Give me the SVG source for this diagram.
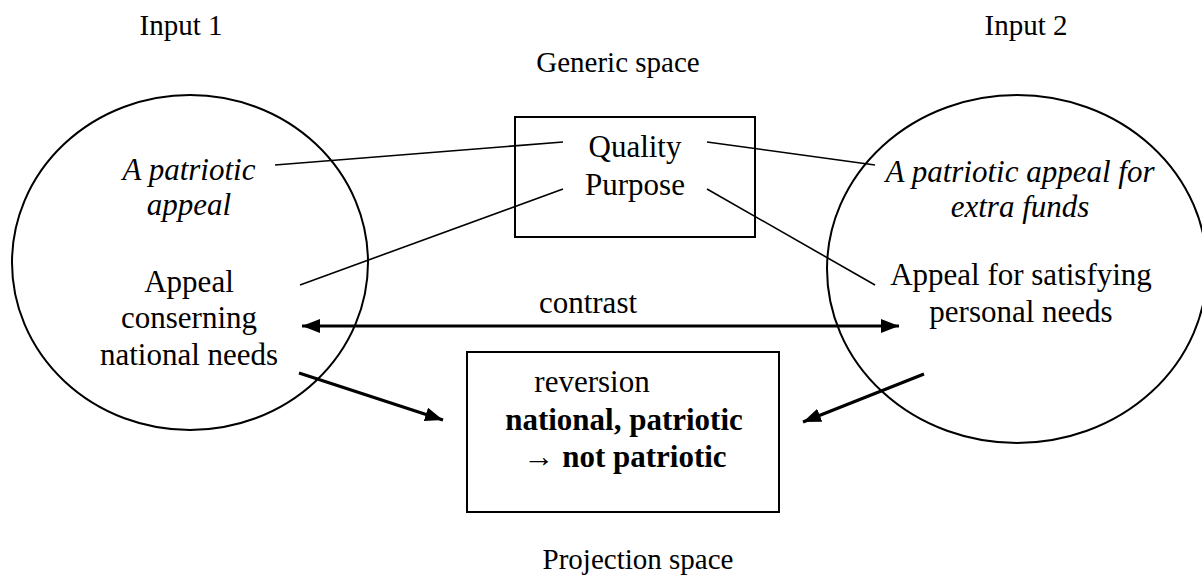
<svg xmlns="http://www.w3.org/2000/svg" width="1202" height="580" viewBox="0 0 1202 580">
<style>
text{font-family:"Liberation Serif","Times New Roman",serif;fill:#000;text-anchor:middle}
.lbl{font-size:29px}
.body{font-size:31px}
.it{font-style:italic}
.b{font-weight:bold}
.shape{fill:none;stroke:#000;stroke-width:2}
.thin{stroke:#000;stroke-width:1.6;fill:none}
.thick{stroke:#000;stroke-width:3.2;fill:none}
</style>
<defs>
<marker id="ah" markerUnits="userSpaceOnUse" markerWidth="20" markerHeight="14" refX="18" refY="7" orient="auto-start-reverse">
<path d="M0,0 L18,7 L0,14 z" fill="#000"/>
</marker>
</defs>
<rect width="1202" height="580" fill="#fff"/>
<g id="labels">
<text class="lbl" x="181" y="35">Input 1</text>
<text class="lbl" x="618" y="72">Generic space</text>
<text class="lbl" x="1026" y="35">Input 2</text>
<text class="lbl" x="638" y="569">Projection space</text>
</g>
<g id="input1">
<ellipse class="shape" cx="190" cy="262.5" rx="178" ry="167.5"/>
<text class="body it" x="189" y="180">A patriotic</text>
<text class="body it" x="189" y="215">appeal</text>
<text class="body" x="189" y="292">Appeal</text>
<text class="body" x="189" y="328">conserning</text>
<text class="body" x="189" y="365">national needs</text>
</g>
<g id="input2">
<ellipse class="shape" cx="1017" cy="269" rx="190" ry="174"/>
<text class="body it" x="1020" y="182">A patriotic appeal for</text>
<text class="body it" x="1020" y="217">extra funds</text>
<text class="body" x="1021" y="285">Appeal for satisfying</text>
<text class="body" x="1021" y="322">personal needs</text>
</g>
<g id="generic">
<rect class="shape" x="515" y="117" width="240" height="120"/>
<text class="body" x="635" y="157">Quality</text>
<text class="body" x="635" y="195">Purpose</text>
</g>
<g id="projection">
<rect class="shape" x="467" y="352" width="312" height="160" stroke-width="2.4"/>
<text class="body" x="592" y="392">reversion</text>
<text class="body b" x="624" y="430">national, patriotic</text>
<text class="body b" x="625" y="467">→ not patriotic</text>
</g>
<g id="connectors">
<line class="thin" x1="275" y1="165" x2="563" y2="142"/>
<line class="thin" x1="300" y1="285" x2="563" y2="189"/>
<line class="thin" x1="707" y1="142" x2="875" y2="165"/>
<line class="thin" x1="707" y1="189" x2="875" y2="285"/>
<line class="thick" x1="302" y1="326" x2="899" y2="326" marker-start="url(#ah)" marker-end="url(#ah)"/>
<text class="body" x="588" y="313">contrast</text>
<line class="thick" x1="299" y1="373" x2="443" y2="420" marker-end="url(#ah)"/>
<line class="thick" x1="924" y1="374" x2="803" y2="422" marker-end="url(#ah)"/>
</g>
</svg>
